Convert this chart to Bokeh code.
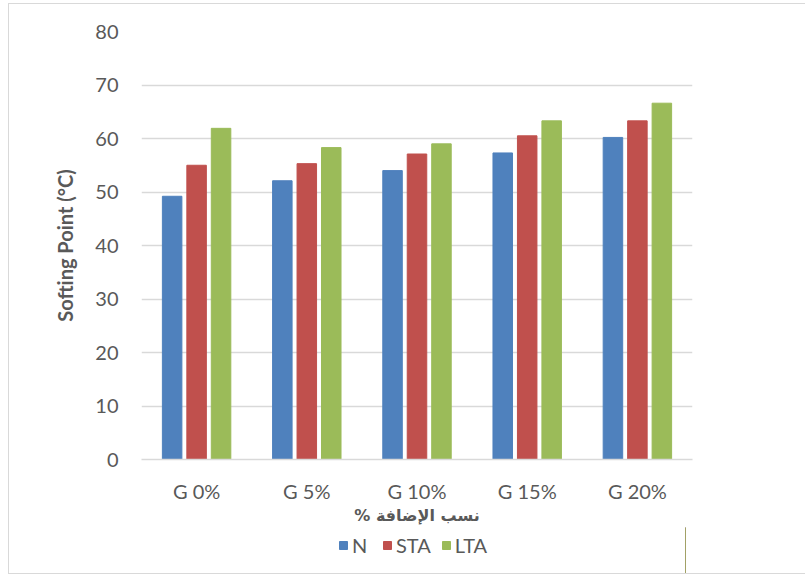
from bokeh.plotting import figure
from bokeh.layouts import column
from bokeh.models import ColumnDataSource, FactorRange, Legend, LegendItem, SingleIntervalTicker, Range1d
from bokeh.transform import dodge
from bokeh.embed import file_html
from bokeh.resources import INLINE

categories = ["G 0%", "G 5%", "G 10%", "G 15%", "G 20%"]
n_vals = [49.2, 52.1, 54.0, 57.3, 60.2]
sta_vals = [55.0, 55.3, 57.1, 60.5, 63.3]
lta_vals = [61.9, 58.3, 59.0, 63.3, 66.6]
series_names = ["N", "STA", "LTA"]
colors = ["#4F81BD", "#C0504D", "#9BBB59"]

src = ColumnDataSource(data=dict(cat=categories, N=n_vals, STA=sta_vals, LTA=lta_vals))

p = figure(frame_width=551, frame_height=428, x_range=FactorRange(*categories, range_padding=0),
           y_range=(0, 80), output_backend="svg", toolbar_location=None,
           min_border_left=132, min_border_right=120, min_border_top=27, min_border_bottom=66)

offsets = [-0.222, 0.0, 0.222]
for name, col, off in zip(series_names, colors, offsets):
    p.vbar(x=dodge("cat", off, range=p.x_range), top=name, width=0.177, source=src,
           fill_color=col, line_color=col)

p.outline_line_color = None
p.background_fill_color = "white"
p.border_fill_color = "white"

p.xgrid.grid_line_color = None
p.ygrid.grid_line_color = "#D9D9D9"
p.ygrid.grid_line_width = 1.5

p.yaxis.ticker = SingleIntervalTicker(interval=10)
p.yaxis.axis_line_color = None
p.yaxis.major_tick_line_color = None
p.yaxis.minor_tick_line_color = None
p.yaxis.major_label_text_font = "Lato"
p.yaxis.major_label_text_font_size = "20px"
p.yaxis.major_label_text_color = "#595959"
p.yaxis.major_label_standoff = 17
p.yaxis.axis_label = "Softing Point (°C)"
p.yaxis.axis_label_text_font = "Lato"
p.yaxis.axis_label_text_font_style = "bold"
p.yaxis.axis_label_text_font_size = "20px"
p.yaxis.axis_label_text_color = "#595959"
p.yaxis.axis_label_standoff = 15

p.xaxis.axis_line_color = "#D9D9D9"
p.xaxis.axis_line_width = 1.5
p.xaxis.major_tick_line_color = None
p.xaxis.minor_tick_line_color = None
p.xaxis.major_label_text_font = "Lato"
p.xaxis.major_label_text_font_size = "20px"
p.xaxis.major_label_text_color = "#595959"
p.xaxis.major_label_standoff = 13
p.xaxis.axis_label = "% نسب الإضافة"
p.xaxis.axis_label_text_font = "DejaVu Sans"
p.xaxis.axis_label_text_font_style = "bold"
p.xaxis.axis_label_text_font_size = "16px"
p.xaxis.axis_label_text_color = "#595959"
p.xaxis.axis_label_standoff = 0

# legend strip below the chart
lf = figure(width=796, height=46, x_range=Range1d(0, 1), y_range=Range1d(0, 1),
            output_backend="svg", toolbar_location=None,
            min_border_left=0, min_border_right=0, min_border_top=0, min_border_bottom=0)
lf.axis.visible = False
lf.grid.visible = False
lf.outline_line_color = None
lf.background_fill_color = "white"
lf.border_fill_color = "white"
items = []
for name, col in zip(series_names, colors):
    # single off-view bar so that the legend swatch is drawn
    r = lf.vbar(x=[5], top=[1], width=0.1, fill_color=col, line_color=col)
    items.append(LegendItem(label=name, renderers=[r]))

legend = Legend(items=items, orientation="horizontal", location=(197, 16))
legend.glyph_width = 10
legend.glyph_height = 10
legend.label_text_font = "Lato"
legend.label_text_font_size = "20px"
legend.label_text_color = "#595959"
legend.label_standoff = 4
legend.spacing = 10
legend.border_line_color = None
legend.background_fill_alpha = 0
legend.padding = 0
legend.margin = 0
lf.add_layout(legend)

layout = column(p, lf, spacing=0,
                styles={"border": "1px solid #D9D9D9", "margin-left": "8px", "margin-top": "3px"})

open("out.html", "w").write(file_html(layout, INLINE))
